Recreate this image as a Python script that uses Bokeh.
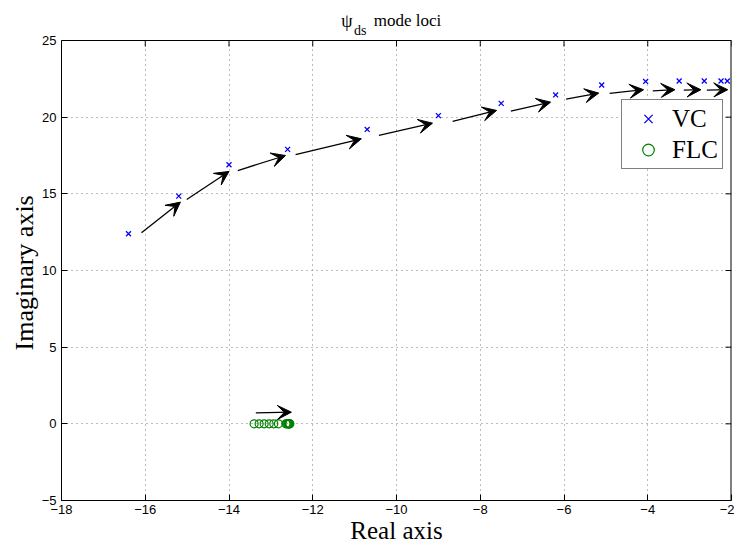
from bokeh.plotting import figure
from bokeh.models import (Arrow, VeeHead, ColumnDataSource, Label, Title,
                          Legend, LegendItem, FixedTicker, Range1d, BoxAnnotation, Span)
from bokeh.embed import file_html
from bokeh.resources import INLINE

# ---- data ----
vc_real = [-16.4, -15.2, -14.0, -12.6, -10.7, -9.0, -7.5, -6.2, -5.1, -4.05, -3.25, -2.65, -2.25, -2.1]
vc_imag = [12.4, 14.85, 16.9, 17.9, 19.2, 20.1, 20.9, 21.45, 22.1, 22.33, 22.36, 22.36, 22.36, 22.36]

flc_real = [-13.40, -13.28, -13.16, -13.04, -12.93, -12.82, -12.64, -12.62, -12.60, -12.58,
            -12.57, -12.56, -12.55, -12.55]
flc_imag = [0.0] * 14

# direction arrows (start -> end)
arr_x0 = [-16.09, -15.01, -13.79, -12.41, -10.42, -8.66, -7.27, -5.95, -4.91, -3.88, -3.14, -2.59, -13.36]
arr_y0 = [12.46, 14.63, 16.52, 17.55, 18.81, 19.72, 20.39, 21.17, 21.55, 21.72, 21.77, 21.77, 0.72]
arr_x1 = [-15.16, -14.00, -12.65, -10.84, -9.14, -7.61, -6.32, -5.17, -4.10, -3.35, -2.73, -2.09, -12.51]
arr_y1 = [14.46, 16.46, 17.50, 18.59, 19.61, 20.44, 20.98, 21.57, 21.79, 21.79, 21.79, 21.79, 0.76]

x_min, x_max = -18, -2
y_min, y_max = -5, 25
x_ticks = [-18, -16, -14, -12, -10, -8, -6, -4, -2]
x_tick_labels = ["\u221218", "\u221216", "\u221214", "\u221212", "\u221210", "\u22128", "\u22126", "\u22124", "\u22122"]
y_ticks = [-5, 0, 5, 10, 15, 20, 25]
y_tick_labels = ["\u22125", "0", "5", "10", "15", "20", "25"]

title_main = "mode loci"
title_sym = "\u03c8"
title_sub = "ds"
x_label = "Real axis"
y_label = "Imaginary axis"
series_names = ["VC", "FLC"]

# ---- layout constants (pixels) ----
W, H = 734, 549
FRAME_TOP_PAD = 40          # room for the title inside the top of the frame
PLOT_H = 460                # height of the axes box
PLOT_W = 670                # width of the axes box
px_per_y = PLOT_H / (y_max - y_min)
px_per_x = PLOT_W / (x_max - x_min)
y_top = y_max + FRAME_TOP_PAD / px_per_y
TICK = 6

p = figure(width=W, height=H, x_range=Range1d(x_min, x_max), y_range=Range1d(y_min, y_top),
           output_backend="svg", toolbar_location=None, title=None,
           min_border_left=61, min_border_right=3, min_border_top=0, min_border_bottom=49)
p.background_fill_color = "white"
p.border_fill_color = "white"
p.outline_line_color = None

tick_font = "Liberation Sans"
serif = "Liberation Serif"

xa = p.xaxis[0]
xa.ticker = FixedTicker(ticks=x_ticks)
xa.major_label_overrides = {t: l for t, l in zip(x_ticks, x_tick_labels)}
ya = p.yaxis[0]
ya.ticker = FixedTicker(ticks=y_ticks)
ya.major_label_overrides = {t: l for t, l in zip(y_ticks, y_tick_labels)}
ya.bounds = (y_min, y_max)

for ax in (xa, ya):
    ax.major_tick_in = TICK
    ax.major_tick_out = 0
    ax.minor_tick_in = 0
    ax.minor_tick_out = 0
    ax.axis_line_color = "black"
    ax.major_tick_line_color = "black"
    ax.major_label_text_font = tick_font
    ax.major_label_text_font_size = "13px"
    ax.major_label_text_color = "black"

xa.axis_label = x_label
xa.axis_label_text_font = serif
xa.axis_label_text_font_style = "normal"
xa.axis_label_text_color = "black"
xa.axis_label_text_font_size = "25px"
xa.major_label_standoff = 4
xa.axis_label_standoff = 0
ya.major_label_standoff = 5

# y axis label: a side title on the left, centred on the axes box (not the whole frame)
p.add_layout(Title(text=y_label, text_font=serif, text_font_size="26px", text_font_style="normal",
                   text_color="black", align="left", offset=150, standoff=0), "left")

for g, ticks in ((p.xgrid[0], x_ticks), (p.ygrid[0], y_ticks)):
    g.ticker = FixedTicker(ticks=ticks)
    g.grid_line_color = "#7a7a7a"
    g.grid_line_dash = "1 4"
    g.grid_line_width = 1

# ---- marks ----
r_vc = p.scatter(vc_real, vc_imag, marker="x", size=7, line_color="#0000ff", line_width=1.3)
r_flc = p.scatter(flc_real, flc_imag, marker="circle", size=8, line_color="#008000",
                  fill_color=None, line_width=1.2)

arr_src = ColumnDataSource(dict(x_start=arr_x0, y_start=arr_y0, x_end=arr_x1, y_end=arr_y1))
p.add_layout(Arrow(end=VeeHead(size=14, fill_color="black", line_color="black", line_width=1),
                   x_start="x_start", y_start="y_start", x_end="x_end", y_end="y_end",
                   source=arr_src, line_color="black", line_width=1.3))

# ---- top and right sides of the axes box: mask, box lines and inward ticks ----
p.add_layout(BoxAnnotation(bottom=y_max, fill_color="white", fill_alpha=1.0, line_alpha=0.0))
p.add_layout(Span(location=y_max, dimension="width", line_color="black", line_width=1))
p.segment(x0=x_ticks, y0=[y_max] * len(x_ticks), x1=x_ticks,
          y1=[y_max - TICK / px_per_y] * len(x_ticks), line_color="black", line_width=1)
p.segment(x0=[x_max], y0=[y_min], x1=[x_max], y1=[y_max], line_color="black", line_width=2)
p.segment(x0=[x_max] * len(y_ticks), y0=y_ticks, x1=[x_max - TICK / px_per_x] * len(y_ticks),
          y1=y_ticks, line_color="black", line_width=1)

# ---- title (psi with subscript) ----
tx, ty = -11.32, y_max + 20 / px_per_y
p.add_layout(Label(x=tx, y=ty, text=title_sym, text_font=serif, text_font_size="18px",
                   text_baseline="alphabetic", text_align="left", text_color="black"))
p.add_layout(Label(x=tx, y=ty, x_offset=12.8, y_offset=-9.5, text=title_sub, text_font=serif,
                   text_font_size="14px", text_baseline="alphabetic", text_align="left",
                   text_color="black"))
p.add_layout(Label(x=tx, y=ty, x_offset=32.6, text=title_main, text_font=serif,
                   text_font_size="17px", text_baseline="alphabetic", text_align="left",
                   text_color="black"))

# ---- legend ----
legend = Legend(items=[LegendItem(label=series_names[0], renderers=[r_vc]),
                       LegendItem(label=series_names[1], renderers=[r_flc])],
                location=(560, 331))
legend.label_text_font = serif
legend.label_text_font_size = "25px"
legend.label_text_color = "black"
legend.border_line_color = "black"
legend.border_line_width = 1
legend.background_fill_color = "white"
legend.background_fill_alpha = 1
legend.padding = 4
legend.spacing = 2
legend.margin = 0
legend.glyph_width = 44
legend.glyph_height = 29
legend.label_height = 29
legend.label_standoff = 2
p.add_layout(legend, "center")

open("out.html", "w").write(file_html(p, INLINE))
